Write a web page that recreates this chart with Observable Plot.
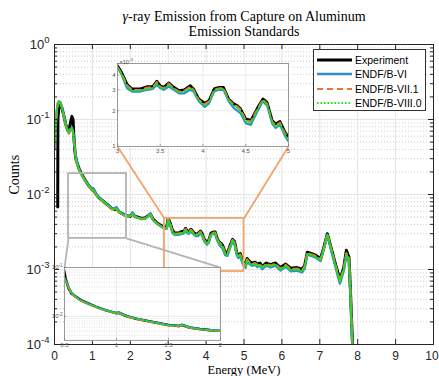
<!DOCTYPE html>
<html>
<head>
<meta charset="utf-8">
<script src="https://cdn.jsdelivr.net/npm/d3@7"></script>
<script src="https://cdn.jsdelivr.net/npm/@observablehq/plot@0.6"></script>
<style>
  body { margin: 0; background: #fff; }
  #fig { position: relative; width: 439px; height: 376px; overflow: hidden; background: #fff;
         font-family: "Liberation Sans", Arial, Helvetica, sans-serif; }
  #fig svg { position: absolute; overflow: visible; }
  .legend { position: absolute; box-sizing: border-box; background: #fff; border: 1px solid #333; }
  .legend .row { position: absolute; left: 0; height: 14px; display: flex; align-items: center; }
  .legend .row span { font-size: 10.5px; color: #000; white-space: nowrap; margin-left: 2px; }
</style>
</head>
<body>
<div id="fig"></div>
<script>
// Photon energy grid (MeV)
const energy = [
  0, 0.03, 0.06, 0.085, 0.09, 0.12, 0.15, 0.2, 0.25, 0.3,
  0.35, 0.38, 0.42, 0.46, 0.49, 0.51, 0.54, 0.57, 0.6, 0.65,
  0.7, 0.8, 0.9, 1.0, 1.02, 1.1, 1.2, 1.3, 1.4, 1.5,
  1.6, 1.63, 1.7, 1.8, 1.9, 2.0, 2.06, 2.12, 2.2, 2.3,
  2.4, 2.47, 2.53, 2.6, 2.7, 2.8, 2.9, 2.96, 3.0, 3.05,
  3.11, 3.17, 3.27, 3.35, 3.41, 3.46, 3.5, 3.54, 3.6, 3.66,
  3.72, 3.78, 3.85, 3.89, 3.95, 4.02, 4.07, 4.13, 4.19, 4.24,
  4.3, 4.36, 4.4, 4.44, 4.5, 4.56, 4.64, 4.7, 4.75, 4.81,
  4.85, 4.9, 4.96, 5.0, 5.04, 5.08, 5.15, 5.22, 5.3, 5.35,
  5.42, 5.48, 5.59, 5.7, 5.83, 5.96, 6.1, 6.23, 6.4, 6.53,
  6.6, 6.67, 6.75, 6.89, 7.02, 7.11, 7.2, 7.28, 7.41, 7.53,
  7.63, 7.7, 7.77, 7.81, 7.85, 7.88
];

// Measured spectrum
const experiment = [
  null, null, null, 0.0068, 0.10, 0.16, 0.165, 0.14, 0.11, 0.085,
  0.072, 0.070, 0.09, 0.11, 0.10, 0.06, 0.037, 0.029, 0.026, 0.022,
  0.0195, 0.0158, 0.0132, 0.0115, 0.0118, 0.0100, 0.0088, 0.0080, 0.0073, 0.0066,
  0.0063, 0.0066, 0.0059, 0.0055, 0.0052, 0.0051, 0.0056, 0.0051, 0.0050, 0.0048,
  0.0049, 0.0052, 0.0055, 0.0047, 0.0042, 0.0039, 0.0036, 0.0037, 0.0048, 0.0042,
  0.00337, 0.00306, 0.00306, 0.0032, 0.0032, 0.00355, 0.00326, 0.00316, 0.00344, 0.00316,
  0.00296, 0.0030, 0.00326, 0.00306, 0.00252, 0.00232, 0.00244, 0.00306, 0.00316, 0.00316,
  0.00252, 0.00229, 0.00222, 0.00208, 0.00171, 0.00166, 0.00214, 0.00252, 0.00236, 0.00166,
  0.00155, 0.00163, 0.00132, 0.0012, 0.00115, 0.0014, 0.00128, 0.00122, 0.00125, 0.00118,
  0.00122, 0.0011, 0.00122, 0.00116, 0.00122, 0.00106, 0.00118, 0.00104, 0.00106, 0.00101,
  0.00113, 0.0017, 0.00165, 0.00155, 0.00139, 0.0020, 0.0030, 0.0021, 0.0012, 0.00074,
  0.00105, 0.0018, 0.00145, 0.0005, 0.00015, 0.00006
];

// Evaluated libraries
const endf6 = [
  0.04, 0.075, 0.13, 0.16, 0.165, 0.175, 0.17, 0.145, 0.11, 0.085,
  0.071, 0.066, 0.075, 0.078, 0.068, 0.055, 0.040, 0.030, 0.026, 0.0215,
  0.0192, 0.0157, 0.0133, 0.0117, 0.0122, 0.0101, 0.0089, 0.0080, 0.0073, 0.0066,
  0.0064, 0.0068, 0.0060, 0.0055, 0.0052, 0.0052, 0.0058, 0.0051, 0.0049, 0.0047,
  0.0048, 0.0052, 0.0056, 0.0046, 0.0041, 0.0038, 0.0035, 0.0035, 0.0046, 0.0040,
  0.0031, 0.0029, 0.0029, 0.0030, 0.00305, 0.0033, 0.0031, 0.0030, 0.0032, 0.0030,
  0.0028, 0.0028, 0.0030, 0.0029, 0.0024, 0.00215, 0.0023, 0.0029, 0.0030, 0.0030,
  0.0024, 0.0021, 0.0020, 0.0019, 0.00157, 0.00152, 0.0020, 0.0024, 0.0022, 0.00155,
  0.00143, 0.00152, 0.00122, 0.0011, 0.00106, 0.0013, 0.00118, 0.00112, 0.00116, 0.00108,
  0.00113, 0.00101, 0.00113, 0.00107, 0.00113, 0.00097, 0.00109, 0.00095, 0.00097, 0.00092,
  0.00103, 0.0016, 0.00153, 0.00145, 0.0013, 0.0019, 0.0029, 0.0020, 0.0011, 0.00065,
  0.00096, 0.00155, 0.00135, 0.00045, 0.00013, 0.00005
];
const endf71 = [
  0.042, 0.078, 0.135, 0.165, 0.168, 0.178, 0.168, 0.142, 0.108, 0.082,
  0.069, 0.065, 0.074, 0.077, 0.066, 0.053, 0.038, 0.028, 0.025, 0.021,
  0.0188, 0.0153, 0.0129, 0.0113, 0.0117, 0.0098, 0.0087, 0.0078, 0.0071, 0.0064,
  0.0062, 0.0065, 0.0058, 0.0054, 0.0051, 0.0050, 0.0055, 0.0050, 0.0049, 0.0047,
  0.0048, 0.0051, 0.0054, 0.0046, 0.0041, 0.0038, 0.0035, 0.0036, 0.0047, 0.0041,
  0.0033, 0.0030, 0.0030, 0.00315, 0.00315, 0.0035, 0.0032, 0.0031, 0.0034, 0.0031,
  0.0029, 0.00295, 0.0032, 0.0030, 0.00247, 0.00228, 0.0024, 0.0030, 0.0031, 0.0031,
  0.00248, 0.00225, 0.00218, 0.00204, 0.00167, 0.00162, 0.0021, 0.00248, 0.0023, 0.00162,
  0.00151, 0.00159, 0.00129, 0.00117, 0.00112, 0.00137, 0.00125, 0.00119, 0.00122, 0.00115,
  0.00119, 0.00107, 0.00119, 0.00113, 0.00119, 0.00103, 0.00115, 0.00101, 0.00103, 0.00098,
  0.0011, 0.00167, 0.00161, 0.00152, 0.00136, 0.00197, 0.00295, 0.00207, 0.00117, 0.00071,
  0.00102, 0.00165, 0.00142, 0.00048, 0.00014, 0.00005
];
const endf80 = [
  0.041, 0.077, 0.133, 0.163, 0.167, 0.177, 0.169, 0.143, 0.109, 0.083,
  0.070, 0.066, 0.075, 0.077, 0.067, 0.054, 0.039, 0.029, 0.0255, 0.0212,
  0.019, 0.0155, 0.0131, 0.0115, 0.0119, 0.0099, 0.0088, 0.0079, 0.0072, 0.0065,
  0.0063, 0.0066, 0.0059, 0.0054, 0.0051, 0.0051, 0.0056, 0.0050, 0.0049, 0.0047,
  0.0048, 0.0051, 0.0055, 0.0046, 0.0041, 0.0038, 0.0035, 0.0035, 0.0046, 0.0040,
  0.0032, 0.00295, 0.00295, 0.00305, 0.0031, 0.0034, 0.00315, 0.00305, 0.0033, 0.00305,
  0.00285, 0.0029, 0.0031, 0.00295, 0.00243, 0.0022, 0.00235, 0.00295, 0.00305, 0.00305,
  0.00244, 0.0022, 0.00212, 0.00198, 0.00162, 0.00157, 0.00205, 0.00244, 0.00226, 0.00158,
  0.00147, 0.00155, 0.00125, 0.00113, 0.00109, 0.00133, 0.00121, 0.00115, 0.00119, 0.00111,
  0.00116, 0.00104, 0.00116, 0.0011, 0.00116, 0.001, 0.00112, 0.00098, 0.001, 0.00095,
  0.00106, 0.00163, 0.00157, 0.00148, 0.00133, 0.00193, 0.0029, 0.00203, 0.00114, 0.00068,
  0.00099, 0.0016, 0.00138, 0.00046, 0.00013, 0.00005
];

const seriesNames = ["Experiment", "ENDF/B-VI", "ENDF/B-VII.1", "ENDF/B-VIII.0"];
const seriesValues = [experiment, endf6, endf71, endf80];

const titleLines = ["γ-ray Emission from Capture on Aluminum", "Emission Standards"];
const xLabel = "Energy (MeV)";
const yLabel = "Counts";

const xTicks = [0, 1, 2, 3, 4, 5, 6, 7, 8, 9, 10];
const yDecades = [1e-4, 1e-3, 1e-2, 1e-1, 1];
const topInsetXTicks = [3, 3.5, 4, 4.5, 5];
const topInsetYTicks = [1e-3, 2e-3, 3e-3, 4e-3, 5e-3];
const lowInsetXTicks = [0.5, 1, 1.5, 2];
const lowInsetYTicks = [1e-2, 1e-1];

// Line styles
const seriesStyle = {
  "Experiment":    {stroke: "#000000", strokeWidth: 3},
  "ENDF/B-VI":     {stroke: "#2f8bd2", strokeWidth: 2.5},
  "ENDF/B-VII.1":  {stroke: "#e8743b", strokeWidth: 2.2, strokeDasharray: "6,4"},
  "ENDF/B-VIII.0": {stroke: "#14e614", strokeWidth: 1.8, strokeDasharray: "1.5,2"}
};

// Zoom regions and inset placement, in main-axes units
const orangeBox = {x1: 2.9, x2: 5.0, y1: 9.4e-4, y2: 4.8e-3};
const grayBox = {x1: 0.37, x2: 1.9, y1: 2.6e-3, y2: 0.019};
const topInsetBox = {x1: 1.662, x2: 6.174, y1: 0.0437, y2: 0.558};
const lowInsetBox = {x1: 0.264, x2: 4.38, y1: 1.13e-4, y2: 1.06e-3};

const W = 439, H = 376;
const M = {left: 54, right: 6, top: 44, bottom: 32};
const pw = W - M.left - M.right, ph = H - M.top - M.bottom;
const sans = "'Liberation Sans', Arial, Helvetica, sans-serif";
const serif = "'Liberation Serif', 'Times New Roman', serif";
const axisColor = "#262626";

const rows = seriesNames.flatMap((name, k) =>
  energy.map((e, i) => ({energy: e, counts: seriesValues[k][i], series: name})));

function minorLogTicks(lo, hi) {
  const out = [];
  for (let d = lo; d < hi * 0.999; d *= 10) for (let k = 2; k <= 9; k++) out.push(k * d);
  return out;
}

function curves(data, widthScale = 1) {
  return seriesNames.map((name) => {
    const st = seriesStyle[name];
    return Plot.line(data.filter((d) => d.series === name), {
      x: "energy", y: "counts", clip: true, strokeLinejoin: "round",
      ...st, strokeWidth: st.strokeWidth * widthScale
    });
  });
}

// Turn "n" exponent labels into 10^n with a raised exponent
function superscriptDecades(svg, selector, expSize) {
  d3.select(svg).selectAll(selector).each(function () {
    const e = this.textContent;
    const t = d3.select(this);
    t.text(null);
    t.append("tspan").text("10");
    t.append("tspan").attr("dy", "-0.55em").attr("font-size", expSize).text(e);
  });
}

const minorY = minorLogTicks(1e-4, 1);

const main = Plot.plot({
  width: W, height: H,
  marginLeft: M.left, marginRight: M.right, marginTop: M.top, marginBottom: M.bottom,
  x: {domain: [0, 10], axis: null},
  y: {type: "log", domain: [1e-4, 1], axis: null},
  style: {fontFamily: sans, fontSize: "12px", color: axisColor, background: "transparent", overflow: "visible"},
  marks: [
    Plot.ruleY(minorY, {stroke: "#cdcdcd", strokeDasharray: "1,2"}),
    Plot.ruleY(yDecades, {stroke: "#e4e4e4"}),
    Plot.ruleX(xTicks, {stroke: "#e4e4e4"}),
    ...curves(rows),
    Plot.rect([grayBox], {x1: "x1", x2: "x2", y1: "y1", y2: "y2", fill: "none", stroke: "#b3b3b3", strokeWidth: 1.8}),
    Plot.rect([orangeBox], {x1: "x1", x2: "x2", y1: "y1", y2: "y2", fill: "none", stroke: "#f3a36c", strokeWidth: 1.8}),
    Plot.link([
      {x1: orangeBox.x1, y1: orangeBox.y2, x2: topInsetBox.x1, y2: topInsetBox.y1},
      {x1: orangeBox.x2, y1: orangeBox.y2, x2: topInsetBox.x2, y2: topInsetBox.y1}
    ], {x1: "x1", y1: "y1", x2: "x2", y2: "y2", stroke: "#f3a36c", strokeWidth: 1.8}),
    Plot.link([
      {x1: grayBox.x1, y1: grayBox.y1, x2: lowInsetBox.x1, y2: lowInsetBox.y2},
      {x1: grayBox.x2, y1: grayBox.y1, x2: lowInsetBox.x2, y2: lowInsetBox.y2}
    ], {x1: "x1", y1: "y1", x2: "x2", y2: "y2", stroke: "#b3b3b3", strokeWidth: 1.8}),
    Plot.frame({stroke: axisColor}),
    Plot.tickX(xTicks, {x: (d) => d, insetTop: ph - 5, stroke: axisColor}),
    Plot.tickX(xTicks, {x: (d) => d, insetBottom: ph - 5, stroke: axisColor}),
    Plot.tickY(yDecades, {y: (d) => d, insetRight: pw - 5, stroke: axisColor}),
    Plot.tickY(yDecades, {y: (d) => d, insetLeft: pw - 5, stroke: axisColor}),
    Plot.tickY(minorY, {y: (d) => d, insetRight: pw - 3, stroke: axisColor}),
    Plot.tickY(minorY, {y: (d) => d, insetLeft: pw - 3, stroke: axisColor}),
    Plot.axisX(xTicks.slice(0, -1), {tickSize: 0, tickPadding: 6.5, fontSize: 12, label: null}),
    Plot.axisX(xTicks.slice(-1), {tickSize: 0, tickPadding: 6.5, fontSize: 12, label: null, dx: -1.5}),
    Plot.axisY(yDecades, {tickSize: 0, tickPadding: 5, fontSize: 13, label: null,
      tickFormat: (d) => String(Math.round(Math.log10(d)))}),
    Plot.text([titleLines.join("\n")], {frameAnchor: "top", lineAnchor: "bottom", dy: -9,
      lineHeight: 1.05, fontFamily: serif, fontSize: 14, fill: "#000"}),
    Plot.text([xLabel], {frameAnchor: "bottom", lineAnchor: "top", dy: 20.5, fontFamily: serif, fontSize: 12.5, fill: "#000"}),
    Plot.text([yLabel], {frameAnchor: "left", dx: -40, rotate: -90, fontFamily: serif, fontSize: 14, fill: "#000"})
  ]
});
superscriptDecades(main, 'g[aria-label="y-axis tick label"] text', "9.5px");
// italic gamma in the title
d3.select(main).selectAll("tspan").filter(function () { return this.textContent.startsWith("γ"); })
  .each(function () {
    const s = this.textContent;
    this.textContent = "";
    d3.select(this).append("tspan").attr("font-style", "italic").text("γ");
    d3.select(this).append("tspan").text(s.slice(1));
  });
document.getElementById("fig").append(main);
main.style.left = "0px"; main.style.top = "0px";

const xs = main.scale("x"), ys = main.scale("y");

function inset({box, xDomain, yDomain, xTicksI, yTicksI, xFmt, yFmt, minorYI, margin, extra = []}) {
  const left = xs.apply(box.x1), right = xs.apply(box.x2);
  const top = ys.apply(box.y2), bottom = ys.apply(box.y1);
  const data = rows.filter((d) => d.energy >= xDomain[0] - 0.1 && d.energy <= xDomain[1] + 0.1);
  const iw = right - left, ih = bottom - top;
  const svg = Plot.plot({
    width: iw + margin.left + margin.right, height: ih + margin.top + margin.bottom,
    marginLeft: margin.left, marginRight: margin.right, marginTop: margin.top, marginBottom: margin.bottom,
    x: {domain: xDomain, axis: null},
    y: {type: "log", domain: yDomain, axis: null},
    style: {fontFamily: sans, fontSize: "6px", color: "#555", background: "transparent", overflow: "visible"},
    marks: [
      Plot.frame({fill: "#fff"}),
      Plot.ruleY(minorYI, {stroke: "#d0d0d0", strokeDasharray: "1,1.5", strokeWidth: 0.7}),
      Plot.ruleY(yTicksI, {stroke: "#e6e6e6", strokeWidth: 0.8}),
      Plot.ruleX(xTicksI, {stroke: "#e6e6e6", strokeWidth: 0.8}),
      ...curves(data, 0.85),
      Plot.frame({stroke: "#9a9a9a"}),
      Plot.tickX(xTicksI, {x: (d) => d, insetTop: ih - 2, stroke: "#777", strokeWidth: 0.7}),
      Plot.tickY(yTicksI, {y: (d) => d, insetRight: iw - 2, stroke: "#777", strokeWidth: 0.7}),
      Plot.axisX(xTicksI, {tickSize: 0, tickPadding: 2, fontSize: 6, label: null, tickFormat: xFmt}),
      Plot.axisY(yTicksI, {tickSize: 0, tickPadding: 2, fontSize: 6, label: null, tickFormat: yFmt}),
      ...extra
    ]
  });
  document.getElementById("fig").append(svg);
  svg.style.left = (left - margin.left) + "px";
  svg.style.top = (top - margin.top) + "px";
  return svg;
}

inset({
  box: topInsetBox, xDomain: [3, 5], yDomain: [1e-3, 5e-3],
  xTicksI: topInsetXTicks, yTicksI: topInsetYTicks,
  xFmt: (d) => String(d), yFmt: (d) => String(Math.round(d * 1000)),
  minorYI: [], margin: {left: 10, right: 4, top: 10, bottom: 10},
  extra: [
    Plot.text(["×10"], {frameAnchor: "top-left", textAnchor: "start", dx: 2, dy: -3, fontSize: 5.5, fill: "#555"}),
    Plot.text(["-3"], {frameAnchor: "top-left", textAnchor: "start", dx: 11.5, dy: -5.5, fontSize: 4.2, fill: "#555"})
  ]
});

const lowInset = inset({
  box: lowInsetBox, xDomain: [0.5, 2], yDomain: [3.2e-3, 0.1],
  xTicksI: lowInsetXTicks, yTicksI: lowInsetYTicks,
  xFmt: (d) => String(d), yFmt: (d) => String(Math.round(Math.log10(d))),
  minorYI: minorLogTicks(1e-3, 1e-1).filter((v) => v > 3.2e-3 && v < 0.1),
  margin: {left: 12, right: 4, top: 6, bottom: 10}
});
superscriptDecades(lowInset, 'g[aria-label="y-axis tick label"] text', "4.5px");

// Legend
const legend = d3.select("#fig").append("div").attr("class", "legend")
  .style("left", "313px").style("top", "49px").style("width", "113px").style("height", "62px");
seriesNames.forEach((name, i) => {
  const st = seriesStyle[name];
  const row = legend.append("div").attr("class", "row")
    .style("top", [3, 17, 32, 46][i] + "px").style("left", "3px");
  const sw = row.append("svg").attr("width", 36).attr("height", 8).style("position", "static");
  sw.append("line").attr("x1", 0).attr("x2", 35).attr("y1", 4).attr("y2", 4)
    .attr("stroke", st.stroke).attr("stroke-width", st.strokeWidth)
    .attr("stroke-dasharray", st.strokeDasharray || null);
  row.append("span").text(name);
});
</script>
</body>
</html>
